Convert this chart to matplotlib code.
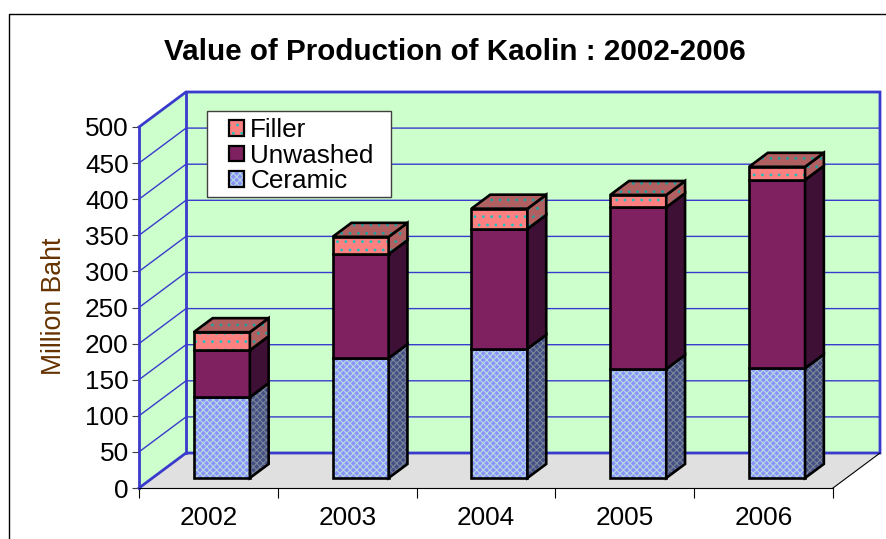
import matplotlib
matplotlib.use("Agg")
import matplotlib.pyplot as plt
from matplotlib.patches import Polygon, Patch, Rectangle
from matplotlib.legend_handler import HandlerBase

plt.rcParams['font.family'] = ['Liberation Sans', 'DejaVu Sans']
plt.rcParams['hatch.linewidth'] = 0.8

years = ['2002', '2003', '2004', '2005', '2006']
ceramic = [112, 166, 179, 151, 152]
unwashed = [65, 144, 166, 224, 261]
filler = [25, 24, 28, 17, 18]
yticks = list(range(0, 501, 50))

W, H = 886, 539
FS = 18.8
fig = plt.figure(figsize=(W / 100, H / 100), dpi=100, facecolor='white')
ax = fig.add_axes([139 / W, 1 - 488 / H, 694 / W, 361 / H])
ax.set_xlim(0, 5)
ax.set_ylim(0, 500)
ax.patch.set_visible(False)

DX = 47 / 138.8
DY = 35 / 0.722
BLUE = '#3a3acc'


def P(x, y, z):
    return (x + z * DX, y + z * DY)


def poly(pts, fc, ec='none', lw=0, hatch=None, hc=None, zo=1):
    if hatch:
        ax.add_patch(Polygon(pts, closed=True, facecolor=fc, edgecolor=hc, lw=0,
                             hatch=hatch, clip_on=False, zorder=zo))
        ax.add_patch(Polygon(pts, closed=True, fill=False, edgecolor=ec, lw=lw,
                             clip_on=False, zorder=zo, joinstyle='miter'))
    else:
        ax.add_patch(Polygon(pts, closed=True, facecolor=fc, edgecolor=ec, lw=lw,
                             clip_on=False, zorder=zo, joinstyle='miter'))


# walls and floor
poly([P(0, 0, 0), P(5, 0, 0), P(5, 0, 1), P(0, 0, 1)], '#e0e0e0', zo=1)
poly([P(0, 0, 1), P(5, 0, 1), P(5, 500, 1), P(0, 500, 1)], '#ccffcc', zo=1)
poly([P(0, 0, 0), P(0, 0, 1), P(0, 500, 1), P(0, 500, 0)], '#ccffcc', zo=1)
for v in yticks[1:-1]:
    a, b, c = P(0, v, 0), P(0, v, 1), P(5, v, 1)
    ax.plot([a[0], b[0], c[0]], [a[1], b[1], c[1]], color=BLUE, lw=1.0, clip_on=False, zorder=2)
for pts in ([P(0, 0, 0), P(0, 0, 1), P(5, 0, 1), P(5, 500, 1), P(0, 500, 1), P(0, 500, 0)],
            [P(0, 0, 1), P(0, 500, 1)]):
    ax.plot([p[0] for p in pts], [p[1] for p in pts], color=BLUE, lw=2.0, clip_on=False,
            zorder=3, solid_joinstyle='miter')
a, b = P(5, 0, 0), P(5, 0, 1)
ax.plot([a[0], b[0]], [a[1], b[1]], color='black', lw=0.8, clip_on=False, zorder=3)

# bars
BW = 0.4035
Z0, Z1 = 0.286, 0.686
styles = {
    'Ceramic': dict(front='#8c92fa', side='#454f85', hatch='xxxxx', hc='#b4dce0', hcs='#7a8698'),
    'Unwashed': dict(front='#7f2060', side='#3f1035', hatch=None, hc=None, hcs=None),
    'Filler': dict(front='#ff8080', side='#b06060', hatch='..', hc='#20c0c0', hcs='#20a0a0'),
}
series = [('Ceramic', ceramic), ('Unwashed', unwashed), ('Filler', filler)]
for i in range(len(years)):
    x0 = i + 0.5 - BW / 2
    x1 = i + 0.5 + BW / 2
    base = 0
    for name, vals in series:
        s = styles[name]
        top = base + vals[i]
        poly([P(x0, base, Z0), P(x1, base, Z0), P(x1, top, Z0), P(x0, top, Z0)],
             s['front'], 'black', 1.9, s['hatch'], s['hc'], zo=5)
        poly([P(x1, base, Z0), P(x1, base, Z1), P(x1, top, Z1), P(x1, top, Z0)],
             s['side'], 'black', 1.9, s['hatch'], s['hcs'], zo=5)
        if name == 'Filler':
            poly([P(x0, top, Z0), P(x1, top, Z0), P(x1, top, Z1), P(x0, top, Z1)],
                 s['side'], 'black', 1.9, s['hatch'], s['hcs'], zo=5)
        base = top

# axes
ax.set_yticks(yticks)
ax.set_xticks(range(6))
ax.set_xticks([i + 0.5 for i in range(5)], minor=True)
ax.set_xticklabels([])
ax.set_xticklabels(years, minor=True)
ax.tick_params(axis='y', labelsize=FS, length=5, width=0.8, color='#404040', pad=2.5, labelcolor='black')
ax.tick_params(axis='x', which='major', length=7, width=0.8, color='black')
ax.tick_params(axis='x', which='minor', length=0, labelsize=FS, pad=13)
for sp in ['top', 'right']:
    ax.spines[sp].set_visible(False)
ax.spines['bottom'].set_color('black')
ax.spines['bottom'].set_linewidth(0.8)
ax.spines['bottom'].set_zorder(4)
ax.spines['left'].set_color(BLUE)
ax.spines['left'].set_linewidth(2.0)
ax.spines['left'].set_zorder(4)
ax.set_ylabel('Million Baht', fontsize=19.2, color='#663300')
ax.yaxis.set_label_coords((67 - 139) / 694, 0.5 + (488 - 306 - 180.5) / 361)

fig.text(455 / W, 1 - 51.5 / H, 'Value of Production of Kaolin : 2002-2006', fontsize=21.3,
         fontweight='bold', ha='center', va='center')


# legend
class SwatchHandler(HandlerBase):
    def create_artists(self, legend, orig, xd, yd, w, h, fontsize, trans):
        side = 11.0
        x = w - side - xd
        y = (h - side) / 2 - yd
        fill = Rectangle((x, y), side, side, facecolor=orig.get_facecolor(),
                         edgecolor=orig.get_edgecolor(), lw=0, hatch=orig.get_hatch(), transform=trans)
        line = Rectangle((x, y), side, side, fill=False, edgecolor='black', lw=1.6, transform=trans)
        return [fill, line]


fig.add_artist(Rectangle((207 / W, 1 - 197 / H), 184 / W, 86 / H, transform=fig.transFigure,
                         facecolor='white', edgecolor='#404040', lw=1.0, zorder=9))
handles = [Patch(facecolor=styles[n]['front'], edgecolor=styles[n]['hc'] or styles[n]['front'],
                 hatch=styles[n]['hatch'], label=n) for n in ['Filler', 'Unwashed', 'Ceramic']]
leg = fig.legend(handles=handles, loc='upper left', fontsize=FS, frameon=False,
                 bbox_to_anchor=(207 / W, 1 - 112 / H), bbox_transform=fig.transFigure,
                 borderaxespad=0, borderpad=0.23, labelspacing=0.06, handlelength=1.2,
                 handletextpad=0.23, handleheight=0.7,
                 handler_map={Patch: SwatchHandler()})
leg.set_zorder(10)

# figure frame
fig.add_artist(plt.Line2D([9 / W, 9 / W, 1], [0, 1 - 14 / H, 1 - 14 / H], color='black', lw=1.0))

fig.savefig('out.png', dpi=100)
